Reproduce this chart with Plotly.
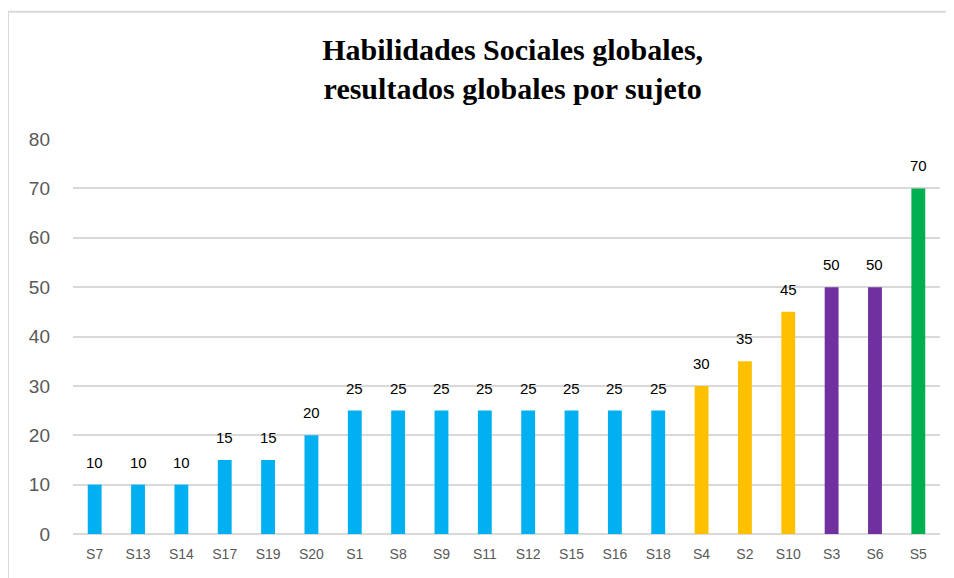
"""Habilidades sociales globales: bar chart per subject."""

import plotly.graph_objects as go

sujetos = ["S7", "S13", "S14", "S17", "S19", "S20", "S1", "S8", "S9", "S11",
           "S12", "S15", "S16", "S18", "S4", "S2", "S10", "S3", "S6", "S5"]
puntajes = [10, 10, 10, 15, 15, 20, 25, 25, 25, 25,
            25, 25, 25, 25, 30, 35, 45, 50, 50, 70]
niveles = ["bajo"] * 14 + ["medio"] * 3 + ["alto"] * 2 + ["muy_alto"]

colores_nivel = {"bajo": "#00B0F0", "medio": "#FFC000", "alto": "#7030A0", "muy_alto": "#00B050"}
colores = [colores_nivel[n] for n in niveles]

fig = go.Figure()
fig.add_trace(go.Bar(
    x=sujetos,
    y=puntajes,
    marker={"color": colores, "line": {"width": 0}},
    hoverinfo="x+y",
))

# data labels sit a bit higher above the bars than plotly's outside text
for s, v in zip(sujetos, puntajes):
    fig.add_annotation(
        x=s, y=v, text=str(v), showarrow=False,
        yanchor="bottom", yshift=12,
        font={"family": "Liberation Sans", "size": 15, "color": "#000000"},
    )

# the page is offset by the browser's 8px body margin, so margins compensate
fig.update_layout(
    width=954,
    height=578,
    margin={"l": 65, "r": 22, "t": 131, "b": 52},
    paper_bgcolor="white",
    plot_bgcolor="white",
    bargap=0.68,
    showlegend=False,
    title={
        "text": "<b>Habilidades Sociales globales,<br>resultados globales por sujeto</b>",
        "font": {"family": "Liberation Serif", "size": 30, "color": "#000000"},
        "x": 0.529,
        "xanchor": "center",
        "y": 0.91,
        "yanchor": "middle",
    },
    xaxis={
        "showgrid": False,
        "showline": False,
        "ticks": "",
        "tickfont": {"family": "Liberation Sans", "size": 14, "color": "#595959"},
        "ticklabelstandoff": 10,
    },
    yaxis={
        "range": [0, 80],
        "dtick": 10,
        "showgrid": True,
        "gridcolor": "#D9D9D9",
        "gridwidth": 1.5,
        "zeroline": True,
        "zerolinecolor": "#D9D9D9",
        "zerolinewidth": 1.5,
        "showline": False,
        "tickfont": {"family": "Liberation Sans", "size": 19, "color": "#595959"},
        "ticklabelstandoff": 22,
    },
    shapes=[{
        "type": "rect",
        "xref": "paper",
        "yref": "paper",
        "x0": -0.075,
        "x1": 1.03,
        "y0": -0.15,
        "y1": 1.322,
        "line": {"color": "#D9D9D9", "width": 2},
        "fillcolor": "rgba(0,0,0,0)",
        "layer": "below",
    }],
)

fig.write_html("out.html")
